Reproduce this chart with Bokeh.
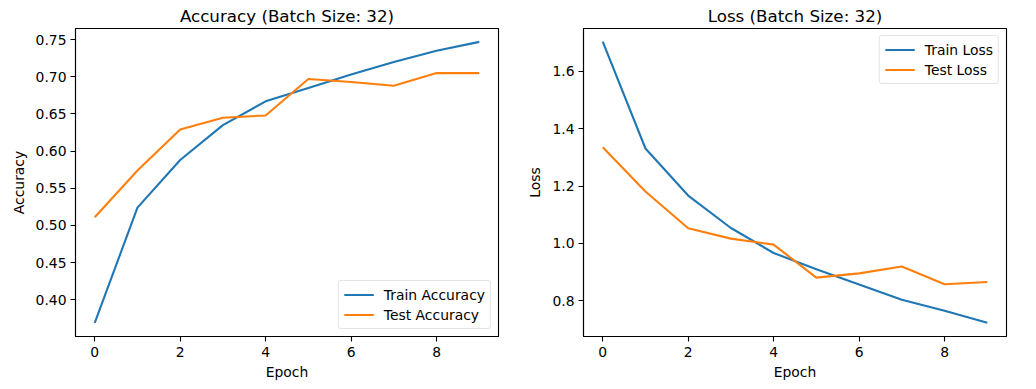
from bokeh.plotting import figure
from bokeh.layouts import row
from bokeh.models import FixedTicker, NumeralTickFormatter, Range1d, Legend, LegendItem
from bokeh.embed import file_html
from bokeh.resources import INLINE

epochs = [0, 1, 2, 3, 4, 5, 6, 7, 8, 9]
train_acc = [0.369, 0.524, 0.588, 0.635, 0.667, 0.685, 0.703, 0.720, 0.735, 0.747]
test_acc = [0.511, 0.574, 0.629, 0.645, 0.648, 0.697, 0.693, 0.688, 0.705, 0.705]
train_loss = [1.703, 1.331, 1.167, 1.054, 0.967, 0.910, 0.857, 0.804, 0.766, 0.724]
test_loss = [1.335, 1.181, 1.053, 1.017, 0.996, 0.881, 0.896, 0.920, 0.858, 0.866]

acc_ticks = [0.40, 0.45, 0.50, 0.55, 0.60, 0.65, 0.70, 0.75]
loss_ticks = [0.8, 1.0, 1.2, 1.4, 1.6]
x_ticks = [0, 2, 4, 6, 8]

BLUE = "#1f77b4"
ORANGE = "#ff7f0e"
FONT = "DejaVu Sans"


def make_fig(title, ylabel, ys, labels, yticks, yfmt, yr, legend_loc, left_border, right_border):
    p = figure(frame_width=423, frame_height=308, output_backend="svg",
               toolbar_location=None, title=title,
               x_range=Range1d(-0.45, 9.45), y_range=Range1d(*yr),
               min_border_left=left_border, min_border_right=right_border,
               min_border_top=28, min_border_bottom=53)
    p.title.align = "center"
    p.title.text_font = FONT
    p.title.text_font_size = "16.7px"
    p.title.text_font_style = "normal"
    p.title.text_color = "black"
    p.title.text_line_height = 1.0
    p.title.standoff = 5
    p.xgrid.visible = False
    p.ygrid.visible = False
    p.outline_line_color = "black"
    p.outline_line_width = 1.1
    p.background_fill_color = "white"
    p.border_fill_color = "white"

    r1 = p.line(epochs, ys[0], line_color=BLUE, line_width=2.1)
    r2 = p.line(epochs, ys[1], line_color=ORANGE, line_width=2.1)

    for ax in (p.xaxis[0], p.yaxis[0]):
        ax.axis_line_color = "black"
        ax.axis_line_width = 1.1
        ax.major_tick_out = 5
        ax.major_tick_in = 0
        ax.major_tick_line_width = 1.1
        ax.minor_tick_out = 0
        ax.minor_tick_in = 0
        ax.major_label_text_font = FONT
        ax.major_label_text_font_size = "13.9px"
        ax.major_label_text_color = "black"
        ax.axis_label_text_font = FONT
        ax.axis_label_text_font_size = "13.9px"
        ax.axis_label_text_font_style = "normal"
        ax.axis_label_text_color = "black"
        ax.major_label_standoff = 4

    p.xaxis.ticker = FixedTicker(ticks=x_ticks)
    p.xaxis.axis_label = "Epoch"
    p.xaxis.major_label_standoff = 5
    p.xaxis.axis_label_standoff = 4
    p.yaxis.ticker = FixedTicker(ticks=yticks)
    p.yaxis.formatter = NumeralTickFormatter(format=yfmt)
    p.yaxis.axis_label = ylabel
    p.yaxis.axis_label_standoff = 6

    legend = Legend(items=[LegendItem(label=labels[0], renderers=[r1]),
                           LegendItem(label=labels[1], renderers=[r2])],
                    location=legend_loc)
    legend.margin = 7
    legend.padding = 5
    legend.spacing = 3
    legend.glyph_width = 30
    legend.glyph_height = 17
    legend.label_height = 17
    legend.label_standoff = 10
    legend.label_text_font = FONT
    legend.label_text_font_size = "13.9px"
    legend.label_text_color = "black"
    legend.border_line_color = "#cccccc"
    legend.border_line_width = 1
    legend.background_fill_alpha = 0.8
    if "border_radius" in legend.properties():
        legend.border_radius = 3
    p.add_layout(legend, "center")
    return p


p1 = make_fig("Accuracy (Batch Size: 32)", "Accuracy", (train_acc, test_acc),
              ("Train Accuracy", "Test Accuracy"), acc_ticks, "0.00", (0.3506, 0.765),
              "bottom_right", 75, 20)
p2 = make_fig("Loss (Batch Size: 32)", "Loss", (train_loss, test_loss),
              ("Train Loss", "Test Loss"), loss_ticks, "0.0", (0.676, 1.749),
              "top_right", 65, 30)

layout = row(p1, p2, spacing=0)
open("out.html", "w").write(file_html(layout, INLINE))
